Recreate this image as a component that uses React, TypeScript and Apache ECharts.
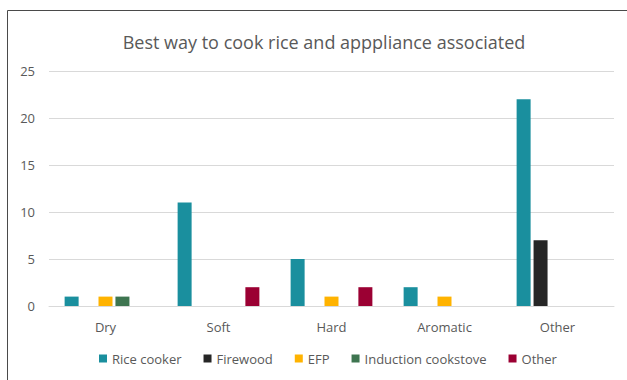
import React, { useEffect, useRef } from "react";
import * as echarts from "echarts";

const categories = ["Dry", "Soft", "Hard", "Aromatic", "Other"];
const riceCooker = [1, 11, 5, 2, 22];
const firewood = [0, 0, 0, 0, 7];
const efp = [1, 0, 1, 1, 0];
const induction = [1, 0, 0, 0, 0];
const other = [0, 2, 2, 0, 0];
const yTicks = [0, 5, 10, 15, 20, 25];

const seriesDefs = [
  { name: "Rice cooker", data: riceCooker, color: "#1A8F9E" },
  { name: "Firewood", data: firewood, color: "#262626" },
  { name: "EFP", data: efp, color: "#FFB300" },
  { name: "Induction cookstove", data: induction, color: "#3E7550" },
  { name: "Other", data: other, color: "#9B0033" },
];

const FONT = "'Open Sans', 'Noto Sans', sans-serif";

export default function App() {
  const ref = useRef<HTMLDivElement>(null);
  useEffect(() => {
    if (!ref.current) return;
    const chart = echarts.init(ref.current, null, { renderer: "svg" });
    chart.setOption({
      animation: false,
      backgroundColor: "#ffffff",
      title: {
        text: "Best way to cook rice and apppliance associated",
        left: 319,
        top: 28,
        textAlign: "center",
        textStyle: { fontFamily: FONT, fontSize: 18, fontWeight: "normal", color: "#595959" },
      },
      graphic: [
        {
          type: "rect",
          shape: { x: 7.5, y: 10.5, width: 700, height: 500 },
          style: { fill: "none", stroke: "#4a4a4a", lineWidth: 1 },
          silent: true,
        },
      ],
      legend: {
        bottom: 10,
        left: 94,
        itemWidth: 8,
        itemHeight: 8,
        itemGap: 22,
        icon: "rect",
        textStyle: { fontFamily: FONT, fontSize: 13, color: "#595959" },
        data: seriesDefs.map((s) => s.name),
      },
      grid: { left: 49, right: 13, top: 71, bottom: 74, containLabel: false },
      xAxis: {
        type: "category",
        data: categories,
        axisLine: { lineStyle: { color: "#d9d9d9", width: 1 } },
        axisTick: { show: false },
        axisLabel: { fontFamily: FONT, fontSize: 13, color: "#595959", margin: 14 },
      },
      yAxis: {
        type: "value",
        min: yTicks[0],
        max: yTicks[yTicks.length - 1],
        interval: 5,
        axisLine: { show: false },
        axisTick: { show: false },
        splitLine: { lineStyle: { color: "#d9d9d9", width: 1 } },
        axisLabel: { fontFamily: FONT, fontSize: 13, color: "#595959", margin: 14 },
      },
      series: seriesDefs.map((s) => ({
        name: s.name,
        type: "bar",
        data: s.data,
        barWidth: 14,
        barGap: "21%",
        itemStyle: { color: s.color },
      })),
    });
    return () => chart.dispose();
  }, []);
  return (
    <div
      ref={ref}
      style={{ position: "fixed", left: 0, top: 0, width: 627, height: 380 }}
    />
  );
}
